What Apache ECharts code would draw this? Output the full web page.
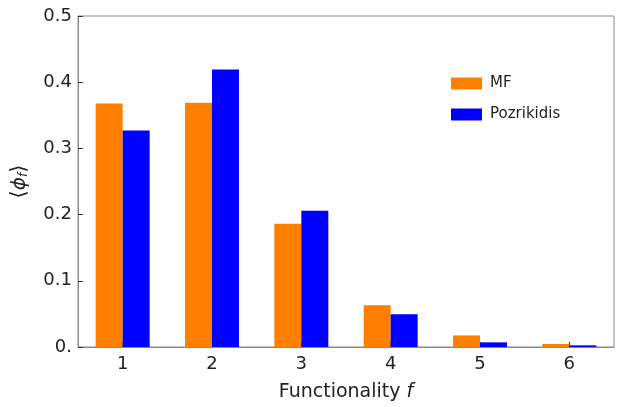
<!DOCTYPE html>
<html><head><meta charset="utf-8">
<script src="https://cdn.jsdelivr.net/npm/echarts@6/dist/echarts.min.js"></script>
<style>html,body{margin:0;padding:0;background:#fff}#c{width:620px;height:407px}</style>
</head><body><div id="c"></div>
<script>
const categories = ['1','2','3','4','5','6'];
const mfValues = [0.368, 0.369, 0.186, 0.063, 0.0175, 0.0045];
const pozValues = [0.327, 0.419, 0.206, 0.0495, 0.007, 0.0025];
const yTicks = ['0.', '0.1', '0.2', '0.3', '0.4', '0.5'];

const chart = echarts.init(document.getElementById('c'), null, {renderer:'canvas'});
const axisColor = '#8a8a8a';
const font = 'DejaVu Sans';
chart.setOption({
  animation:false,
  grid:{left:78,right:6,top:16,bottom:58,show:true,borderColor:axisColor,borderWidth:1},
  legend:{
    data:['MF','Pozrikidis'],orient:'vertical',left:451,top:76,padding:0,itemWidth:31,itemHeight:12,itemGap:16,
    icon:'rect',textStyle:{fontFamily:font,fontSize:15,color:'#222',padding:[0,0,0,3]}
  },
  xAxis:{
    type:'category',data:categories,
    name:'{n|Functionality }{i|f}',nameLocation:'middle',nameGap:36,
    nameTextStyle:{rich:{n:{fontFamily:font,fontSize:19,color:'#222'},i:{fontFamily:font,fontSize:19,fontStyle:'italic',color:'#222'}}},
    axisLine:{lineStyle:{color:axisColor,width:1}},
    axisTick:{show:true,alignWithLabel:true,inside:true,length:5,lineStyle:{color:'#333'}},
    axisLabel:{fontFamily:font,fontSize:18,color:'#222',margin:8},
    splitLine:{show:false}
  },
  yAxis:{
    type:'value',min:0,max:0.5,interval:0.1,
    name:'{a|⟨}{p|ϕ}{s|f}{a|⟩}',nameLocation:'middle',nameGap:48,nameRotate:90,
    nameTextStyle:{rich:{a:{fontFamily:font,fontSize:21,color:'#222'},p:{fontFamily:font,fontSize:20,fontStyle:'italic',color:'#222'},s:{fontFamily:font,fontSize:12,fontStyle:'italic',color:'#222',verticalAlign:'bottom'}}},
    axisLine:{show:true,lineStyle:{color:axisColor,width:1}},
    axisTick:{show:true,inside:true,length:5,lineStyle:{color:'#333'}},
    axisLabel:{fontFamily:font,fontSize:18,color:'#222',margin:6,formatter:(v)=>yTicks[Math.round(v*10)]},
    splitLine:{show:false}
  },
  series:[
    {name:'MF',type:'bar',data:mfValues,barWidth:27,barGap:'0%',itemStyle:{color:'#FF7F00'}},
    {name:'Pozrikidis',type:'bar',data:pozValues,barWidth:27,barGap:'0%',itemStyle:{color:'#0000FF'}}
  ]
});
</script></body></html>
